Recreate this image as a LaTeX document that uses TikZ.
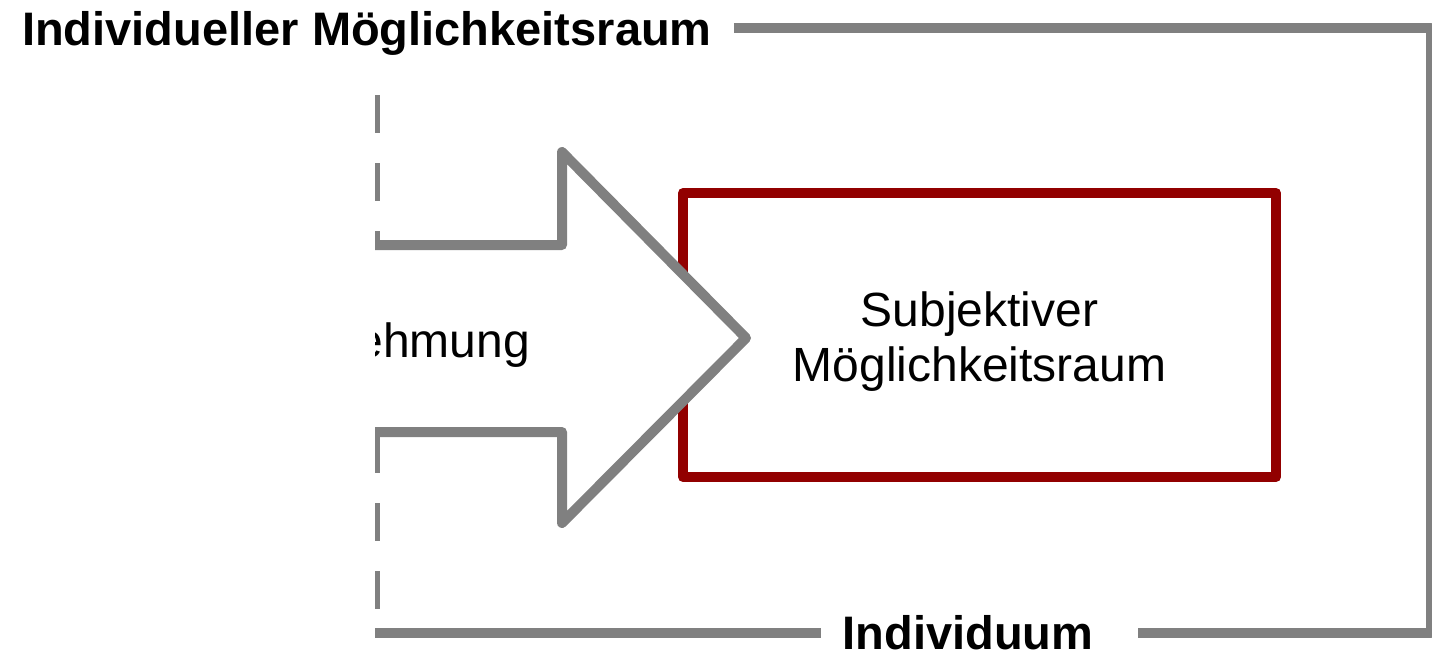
\documentclass[tikz,border=0pt]{standalone}
\usepackage{fontspec}
\setmainfont{Liberation Sans}
\usetikzlibrary{positioning}

\definecolor{framegray}{RGB}{128,128,128}
\definecolor{darkred}{RGB}{146,0,0}

\tikzset{
    frameline/.style={draw=framegray, line width=10pt, line join=round},
    boldlabel/.style={font=\fontsize{47}{56}\selectfont\bfseries, inner sep=0pt},
    plainlabel/.style={font=\fontsize{48}{55}\selectfont, inner sep=0pt, align=center},
    subjbox/.style={draw=darkred, line width=10pt, line join=round, minimum width=593pt, minimum height=284pt},
}

\begin{document}
\begin{tikzpicture}[x=1pt,y=-1pt]

            \useasboundingbox (0,0) rectangle (1432,657);

            \def \xcut{375};
            \def \ytop{28};
            \def \ybot{633};
            \def \xright{1431};

            % labels
            \node[boldlabel, anchor=base west] (title) at (22,45) {Individueller Möglichkeitsraum};
            \node[boldlabel, anchor=base] (individuum) at (968,649) {Individuum};

            % outer frame
            \coordinate (ne) at (\xright,\ytop);
            \coordinate (se) at (\xright,\ybot);
            \coordinate (sw) at (\xcut-20,\ybot);
            \draw[frameline] ([xshift=22pt]title.east |- ne) -- (ne) -- (se) -- ([xshift=44pt]individuum.east |- se);

            % subjective space
            \node[subjbox] (subj) at (979.5,335) {};
            \node[plainlabel] (subjtext) at (979.5,342) {Subjektiver\\Möglichkeitsraum};

            \begin{scope}
                \clip (\xcut,0) rectangle (1432,657);

                % dashed border
                \draw[framegray, line width=10pt, dash pattern=on 38pt off 30pt] (\xcut,95) -- (\xcut,610);
                \draw[frameline] (sw) -- ([xshift=-21pt]individuum.west |- se);

                % arrow
                \coordinate (tip) at (746,338);
                \draw[frameline, fill=white] (\xcut-20,245) -- (562,245) -- (562,152) -- (tip)
                    -- (562,523) -- (562,432) -- (\xcut-20,432) -- cycle;
                \node[plainlabel, anchor=base east] (wahrnehmung) at (530,357) {Wahrnehmung};
            \end{scope}

\end{tikzpicture}
\end{document}
